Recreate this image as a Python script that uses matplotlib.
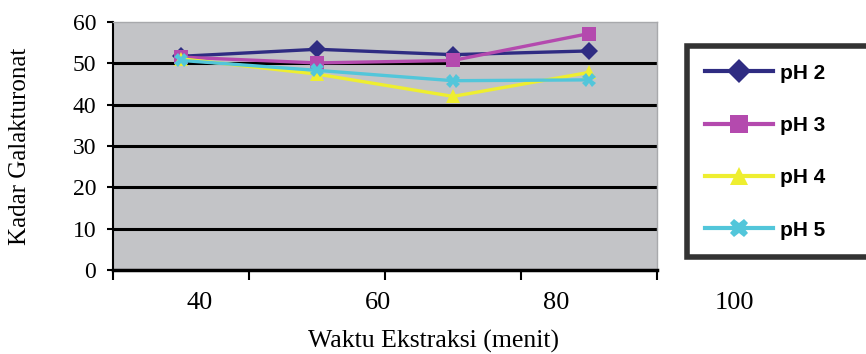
import matplotlib
matplotlib.use("Agg")
import matplotlib.pyplot as plt
from matplotlib.lines import Line2D

# data
waktu = [40, 60, 80, 100]
ph2 = [51.7, 53.4, 52.1, 53.0]
ph3 = [51.5, 50.1, 50.7, 57.2]
ph4 = [51.1, 47.4, 42.0, 47.8]
ph5 = [50.7, 48.3, 45.8, 46.0]
series_names = ["pH 2", "pH 3", "pH 4", "pH 5"]
y_ticks = [0, 10, 20, 30, 40, 50, 60]

colors = ["#2f2c82", "#b44aae", "#eeee30", "#52c6da"]
markers = ["D", "s", "^", "X"]
msizes = [9, 10, 10, 10]

serif = ["Liberation Serif", "DejaVu Serif"]

fig = plt.figure(figsize=(8.66, 3.54), dpi=100)
ax = fig.add_axes([113/866, 1-270/354, 544/866, 248/354])
ax.set_facecolor("#c3c4c7")

pos = [i + 0.5 for i in range(len(waktu))]
all_series = [ph2, ph3, ph4, ph5]
for vals, name, c, m, ms in zip(all_series, series_names, colors, markers, msizes):
    ax.plot(pos, vals, color=c, marker=m, markersize=ms, lw=2.4,
            markeredgewidth=0, label=name, zorder=3)

ax.set_xlim(0, len(waktu))
ax.set_ylim(0, 60)
ax.set_xticks(range(len(waktu) + 1))
ax.set_xticklabels([])
ax.set_yticks(y_ticks)
ax.set_yticklabels([str(v) for v in y_ticks], family=serif, fontsize=17)
for v in y_ticks[1:-1]:
    ax.axhline(v, color="black", lw=2.2, zorder=1)
ax.tick_params(axis="x", direction="out", length=7, width=1.5)
ax.tick_params(axis="y", direction="out", length=4, width=1.5, pad=8)
for s in ["top", "right"]:
    ax.spines[s].set_color("#a8a9ac")
    ax.spines[s].set_linewidth(1)
ax.spines["left"].set_linewidth(1.5)
ax.spines["bottom"].set_linewidth(2.5)
ax.set_ylabel("Kadar Galakturonat", family=serif, fontsize=18)
ax.yaxis.set_label_coords((31 - 113)/544, 0.5)

# category labels, offset as in the original figure
lab = fig.add_axes([113/866, 1-270/354, 753/866, 0.001])
lab.patch.set_alpha(0)
for s in lab.spines.values():
    s.set_visible(False)
lab.set_yticks([])
px_per = 8.9
lab.set_xlim(40 - (200 - 113)/px_per, 40 + (753 - 87)/px_per)
lab.set_xticks(waktu)
lab.set_xticklabels([str(v) for v in waktu], family=serif, fontsize=19)
lab.tick_params(axis="x", length=0, pad=16)

fig.text(433/866, 1-341/354, "Waktu Ekstraksi (menit)", family=serif,
         fontsize=18.5, ha="center", va="center")

handles = [Line2D([0], [0], color=c, marker=m, markersize=ms + 3, lw=3,
                  markeredgewidth=0)
           for c, m, ms in zip(colors, markers, msizes)]
leg = fig.legend(handles, series_names, loc="upper left",
                 bbox_to_anchor=(687/866, 1-252/354, 0.3, 206/354),
                 mode="expand", borderaxespad=0, frameon=True,
                 fancybox=False, handlelength=3.3, labelspacing=1.6,
                 borderpad=0.85, handletextpad=0.3,
                 prop={"family": ["Liberation Sans", "DejaVu Sans"],
                       "weight": "bold", "size": 15})
leg.get_frame().set_edgecolor("black")
leg.get_frame().set_linewidth(4)

fig.savefig("out.png", dpi=100)
